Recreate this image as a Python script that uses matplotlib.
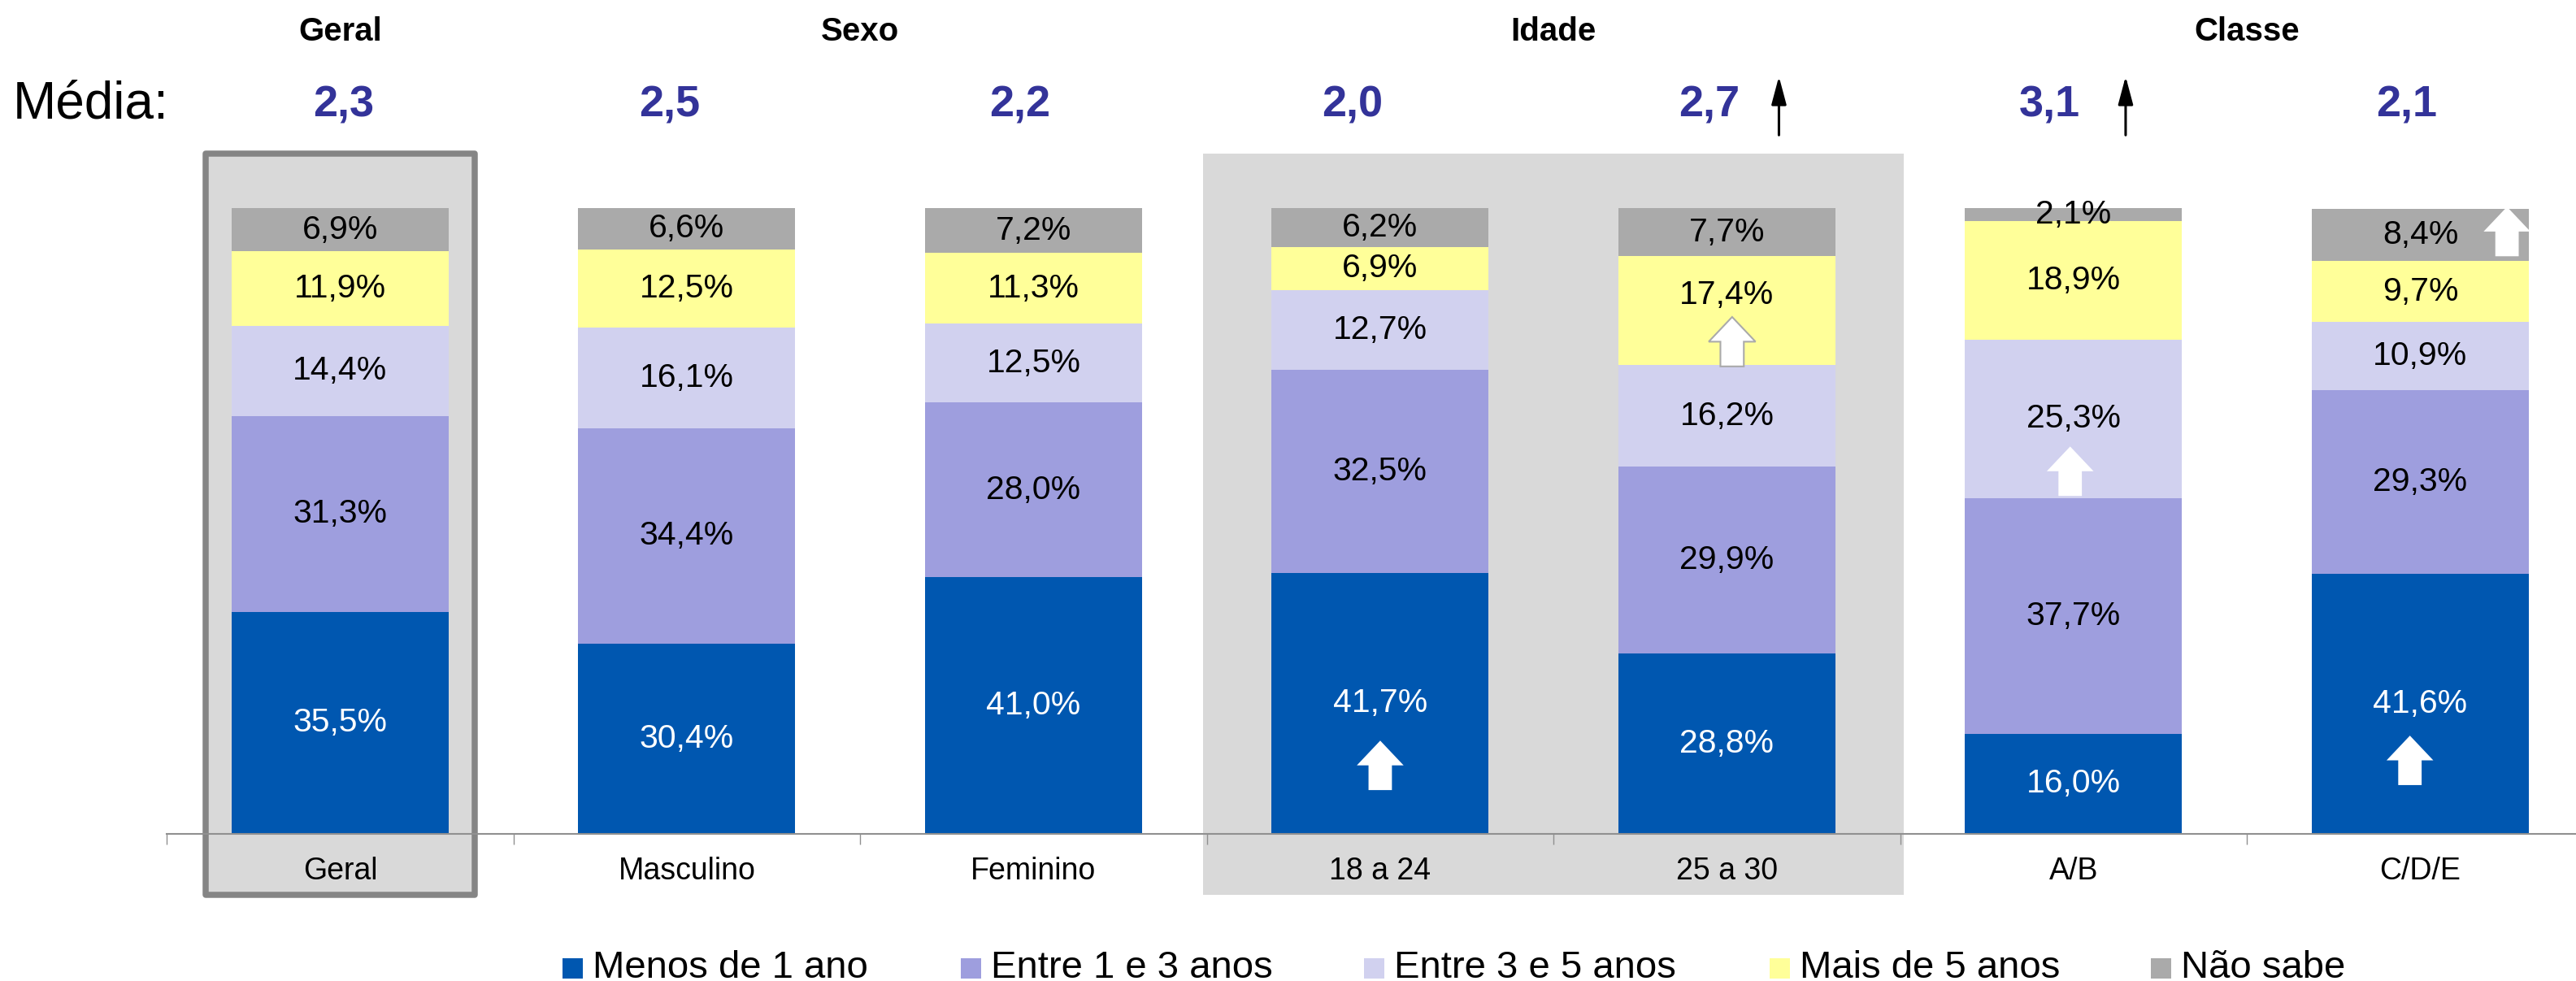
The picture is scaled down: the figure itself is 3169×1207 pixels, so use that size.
import numpy as np
import matplotlib
matplotlib.use('Agg')
import matplotlib.pyplot as plt
from matplotlib.patches import Rectangle, Polygon, FancyArrowPatch

plt.rcParams['font.family'] = ['Liberation Sans', 'DejaVu Sans']

# data
categories = ['Geral', 'Masculino', 'Feminino', '18 a 24', '25 a 30', 'A/B', 'C/D/E']
series = ['Menos de 1 ano', 'Entre 1 e 3 anos', 'Entre 3 e 5 anos', 'Mais de 5 anos', 'Não sabe']
menos1 = [35.5, 30.4, 41.0, 41.7, 28.8, 16.0, 41.6]
entre13 = [31.3, 34.4, 28.0, 32.5, 29.9, 37.7, 29.3]
entre35 = [14.4, 16.1, 12.5, 12.7, 16.2, 25.3, 10.9]
mais5 = [11.9, 12.5, 11.3, 6.9, 17.4, 18.9, 9.7]
naosabe = [6.9, 6.6, 7.2, 6.2, 7.7, 2.1, 8.4]
media = ['2,3', '2,5', '2,2', '2,0', '2,7', '3,1', '2,1']
media_up = [4, 5]          # categories with black arrow next to the mean
groups = ['Geral', 'Sexo', 'Idade', 'Classe']
group_pos = [0, 1.5, 3.5, 5.5]

colors = ['#0057B0', '#9E9EDE', '#D1D1EF', '#FFFF99', '#AAAAAA']
text_colors = ['white', 'black', 'black', 'black', 'black']
values = [menos1, entre13, entre35, mais5, naosabe]

# white "up" arrows inside bars: (x, y bottom, outlined?)
block_arrows = [(3.0, 7.0, False), (4.015, 74.7, True), (4.99, 54.0, False),
                (6.25, 92.3, False), (5.97, 7.8, False)]
label_shift = {(4, 3): 2.5}
media_dx = [0.01, -0.05, -0.04, -0.08, -0.05, -0.07, -0.04]

W, H = 3169, 1207
fig = plt.figure(figsize=(W / 100, H / 100), dpi=100)
ax = fig.add_axes([0, 1 - 1026 / H, 1, 1026 / H])
ax.set_xlim(-0.981, 6.449)
ax.set_ylim(0, 1026 / 7.7)

# background shading
ax.add_patch(Rectangle((2.49, -9.7), 2.02, 118.4, facecolor='#D9D9D9',
                       edgecolor='none', zorder=0, clip_on=False))
ax.add_patch(Rectangle((-0.388, -9.8), 0.776, 118.5, facecolor='#D9D9D9',
                       edgecolor='#858585', linewidth=5.4, zorder=0.5,
                       clip_on=False, joinstyle='round'))

x = np.arange(len(categories))
bw = 0.626
bottom = np.zeros(len(categories))
for s, vals in enumerate(values):
    vals = np.array(vals)
    ax.bar(x, vals, bw, bottom=bottom, color=colors[s], zorder=2)
    for i, v in enumerate(vals):
        yc = bottom[i] + v / 2 + label_shift.get((i, s), 0)
        ax.text(i, yc, f'{v:.1f}%'.replace('.', ','), ha='center', va='center',
                fontsize=29.5, color=text_colors[s], zorder=4)
    bottom += vals

# block arrows
aw, ah = 0.135, 7.9
for xc, yb, outlined in block_arrows:
    pts = [(xc - aw / 4, yb), (xc + aw / 4, yb), (xc + aw / 4, yb + ah / 2),
           (xc + aw / 2, yb + ah / 2), (xc, yb + ah), (xc - aw / 2, yb + ah / 2),
           (xc - aw / 4, yb + ah / 2)]
    ax.add_patch(Polygon(pts, closed=True, facecolor='white',
                         edgecolor='#AAAAAA' if outlined else 'none',
                         linewidth=1.5, zorder=3))

# axis line and ticks
for sp in ['top', 'right', 'left']:
    ax.spines[sp].set_visible(False)
ax.spines['bottom'].set_color('#909090')
ax.spines['bottom'].set_linewidth(1.5)
ax.spines['bottom'].set_bounds(-0.5, 6.449)
ax.set_xticks(np.arange(-0.5, 6.0, 1.0))
ax.set_xticklabels([])
ax.tick_params(axis='x', length=9, width=1, color='#909090', direction='out')
ax.set_yticks([])
for i, c in enumerate(categories):
    ax.text(i, -6.0, c, ha='center', va='center', fontsize=27, zorder=3)

# headers
for g, p in zip(groups, group_pos):
    ax.text(p, 128.2, g, ha='center', va='center', fontsize=29, fontweight='bold')
ax.text(-0.943, 116.5, 'Média:', ha='left', va='center', fontsize=46)
for i, m in enumerate(media):
    ax.text(i + media_dx[i], 116.4, m, ha='center', va='center', fontsize=39,
            fontweight='bold', color='#333399')
for i in media_up:
    ax.add_patch(FancyArrowPatch((i + 0.15, 111.3), (i + 0.15, 121.4),
                                 arrowstyle='-|>,head_length=1.5,head_width=0.4',
                                 mutation_scale=14, linewidth=2.2, color='black',
                                 clip_on=False))

# legend
mark_x = [692, 1182, 1678, 2177, 2646]
for s, name in enumerate(series):
    fig.patches.append(Rectangle((mark_x[s] / W, 1 - 1204 / H), 25 / W, 25 / H,
                                 transform=fig.transFigure, facecolor=colors[s],
                                 edgecolor='none'))
    fig.text((mark_x[s] + 37) / W, 1 - 1191 / H, name, ha='left', va='center',
             fontsize=34)

fig.savefig('out.png', dpi=100)
